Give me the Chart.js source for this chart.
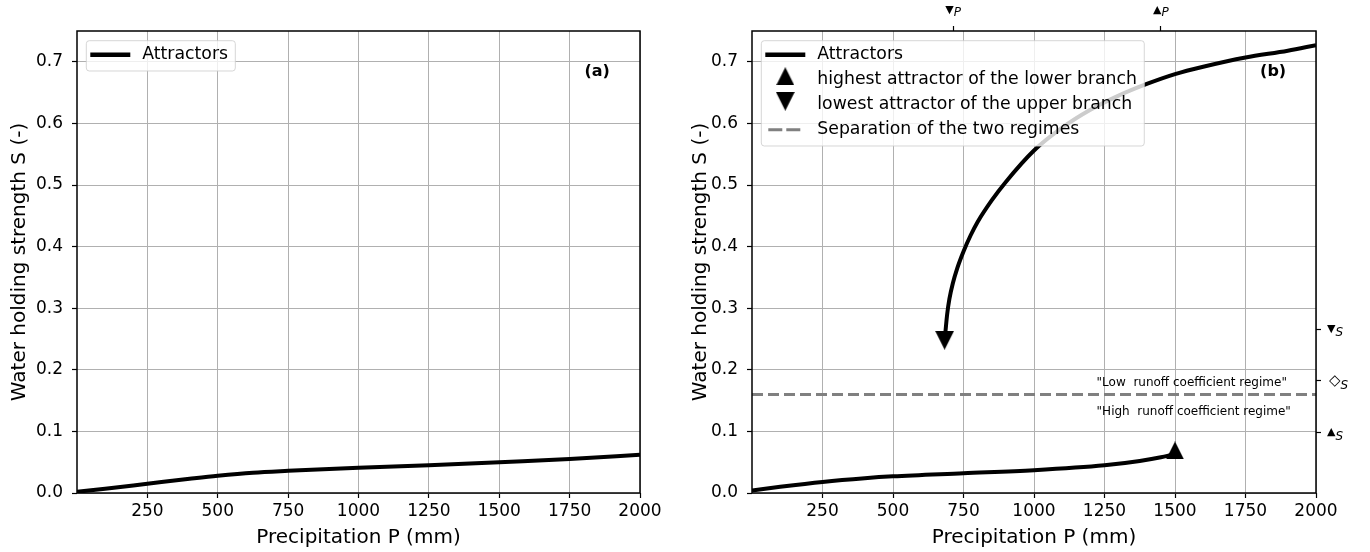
<!DOCTYPE html>
<html>
<head>
<meta charset="utf-8">
<script src="https://cdn.jsdelivr.net/npm/chart.js@4"></script>
<style>
body { margin: 0; background: #fff; }
#wrap { position: relative; width: 1370px; height: 552px; }
canvas { position: absolute; top: 0; }
</style>
</head>
<body>
<div id="wrap">
  <canvas id="chartA" width="685" height="552" style="left:0"></canvas>
  <canvas id="chartB" width="685" height="552" style="left:685px"></canvas>
</div>
<script>
// values
const precipTicks = [250, 500, 750, 1000, 1250, 1500, 1750, 2000];
const strengthTicks = [0, 0.1, 0.2, 0.3, 0.4, 0.5, 0.6, 0.7];

// panel (a): attractors
const precipA = [0, 100, 250, 400, 500, 625, 750, 1000, 1250, 1500, 1750, 2000];
const attractorA = [0.002, 0.007, 0.015, 0.023, 0.028, 0.033, 0.036, 0.041, 0.045, 0.050, 0.055, 0.062];

// panel (b): lower and upper branch
const precipLowB = [0, 100, 250, 400, 500, 750, 1000, 1250, 1375, 1450, 1490];
const attractorLowB = [0.004, 0.010, 0.018, 0.024, 0.027, 0.032, 0.037, 0.045, 0.052, 0.058, 0.062];
const precipUpB = [686, 692, 700, 712, 728, 750, 775, 800, 850, 900, 1000, 1100, 1200, 1300, 1400, 1500, 1600, 1750, 1900, 2000];
const attractorUpB = [0.262, 0.290, 0.315, 0.340, 0.365, 0.392, 0.418, 0.440, 0.475, 0.505, 0.556, 0.593, 0.622, 0.645, 0.664, 0.680, 0.692, 0.707, 0.718, 0.727];

const highestLow = { x: 1500, y: 0.069 };
const lowestUp = { x: 683, y: 0.248 };
const regimeSplit = 0.16;

// extra ticks on the top and right axes of panel (b)
const markerTicksP = [713, 1450];
const markerSymbolsP = ['▼', '▲'];
const markerTicksS = [0.266, 0.182, 0.098];
const markerSymbolsS = ['▼', '◇', '▲'];

const GRID = '#b0b0b0';
const FONT = '"DejaVu Sans", sans-serif';
Chart.defaults.font.family = FONT;
Chart.defaults.color = '#000';

const toPoints = (xs, ys) => xs.map((x, i) => ({ x: x, y: ys[i] }));

// matplotlib like triangle markers (as wide as tall)
function triangle(up, size) {
  const c = document.createElement('canvas');
  c.width = size; c.height = size;
  const g = c.getContext('2d');
  g.fillStyle = '#000';
  g.beginPath();
  if (up) { g.moveTo(size / 2, 0); g.lineTo(size, size); g.lineTo(0, size); }
  else { g.moveTo(0, 0); g.lineTo(size, 0); g.lineTo(size / 2, size); }
  g.closePath();
  g.fill();
  return c;
}
const triUp = triangle(true, 18);
const triDown = triangle(false, 19);

function gridOpts() {
  return { color: GRID, lineWidth: 1, tickColor: '#000', tickLength: 5, tickWidth: 1.2 };
}

function buildScales(isB) {
  const s = {
    x: {
      type: 'linear', position: 'bottom', min: 0, max: 2000,
      afterBuildTicks: sc => { sc.ticks = precipTicks.map(v => ({ value: v })); },
      afterFit: sc => { sc.height = 59; },
      grid: gridOpts(),
      border: { display: false },
      ticks: { font: { size: 17 }, color: '#000', padding: 3, maxRotation: 0, autoSkip: false, callback: v => String(v) },
      title: { display: true, text: 'Precipitation P (mm)', font: { size: 20 }, color: '#000', padding: { top: 0, bottom: 2 } }
    },
    y: {
      type: 'linear', position: 'left', min: 0, max: 0.75,
      afterBuildTicks: sc => { sc.ticks = strengthTicks.map(v => ({ value: v })); },
      afterFit: sc => { sc.width = isB ? 67 : 77; },
      grid: gridOpts(),
      border: { display: false },
      ticks: { font: { size: 17 }, color: '#000', padding: 9, autoSkip: false, callback: v => v.toFixed(1) },
      title: { display: true, text: 'Water holding strength S (-)', font: { size: 20 }, color: '#000', padding: { top: isB ? 4 : 8 } }
    }
  };
  if (isB) {
    s.x2 = {
      type: 'linear', position: 'top', min: 0, max: 2000,
      afterBuildTicks: sc => { sc.ticks = markerTicksP.map(v => ({ value: v })); },
      afterFit: sc => { sc.height = 31; },
      grid: Object.assign(gridOpts(), { drawOnChartArea: false }),
      border: { display: false },
      ticks: { display: false }
    };
    s.y2 = {
      type: 'linear', position: 'right', min: 0, max: 0.75,
      afterBuildTicks: sc => { sc.ticks = markerTicksS.map(v => ({ value: v })); },
      afterFit: sc => { sc.width = 54; },
      grid: Object.assign(gridOpts(), { drawOnChartArea: false }),
      border: { display: false },
      ticks: { display: false }
    };
  }
  return s;
}

function drawLegend(ctx, area, items) {
  ctx.font = '17.3px ' + FONT;
  const textW = Math.max(...items.map(it => ctx.measureText(it.label).width));
  const bx = area.left + 9.3, by = area.top + 9.7;
  const rowH = 25;
  const bw = 56 + textW + 7.3;
  const bh = 14 + (items.length - 1) * rowH + 16.3;
  ctx.beginPath();
  ctx.roundRect(bx, by, bw, bh, 3);
  ctx.fillStyle = 'rgba(255,255,255,0.8)';
  ctx.fill();
  ctx.strokeStyle = 'rgba(204,204,204,0.8)';
  ctx.lineWidth = 1;
  ctx.stroke();
  items.forEach((it, i) => {
    const y = by + 14 + i * rowH;
    const x0 = bx + 4;
    if (it.kind === 'line') {
      ctx.beginPath(); ctx.moveTo(x0, y); ctx.lineTo(x0 + 40, y);
      ctx.lineWidth = 4.5; ctx.strokeStyle = '#000'; ctx.setLineDash([]); ctx.stroke();
    } else if (it.kind === 'dash') {
      ctx.beginPath(); ctx.moveTo(x0 + 3, y); ctx.lineTo(x0 + 37, y);
      ctx.lineWidth = 3; ctx.strokeStyle = '#808080'; ctx.setLineDash([14, 4]); ctx.stroke();
      ctx.setLineDash([]);
    } else {
      const img = it.kind === 'up' ? triUp : triDown;
      ctx.drawImage(img, x0 + 20 - img.width / 2, y - 3.5 - img.height / 2);
    }
    ctx.fillStyle = '#000';
    ctx.textAlign = 'left';
    ctx.textBaseline = 'middle';
    ctx.font = '17.3px ' + FONT;
    ctx.fillText(it.label, bx + 56, y);
  });
}

function symLabel(ctx, x, y, sym, symFont, sub, dy, align) {
  const subFont = 'italic 12px ' + FONT;
  ctx.font = symFont; const w1 = ctx.measureText(sym).width;
  ctx.font = subFont; const w2 = ctx.measureText(sub).width;
  const sx = align === 'center' ? x - (w1 + w2) / 2 : x;
  ctx.textAlign = 'left';
  ctx.textBaseline = 'middle';
  ctx.fillStyle = '#000';
  ctx.font = symFont; ctx.fillText(sym, sx, y);
  ctx.font = subFont; ctx.fillText(sub, sx + w1, y + dy);
}

function decor(cfg) {
  return {
    id: 'decor',
    afterDatasetsDraw(chart) {
      const ctx = chart.ctx, xs = chart.scales.x, ys = chart.scales.y;
      ctx.save();
      ctx.fillStyle = '#000';
      ctx.font = 'bold 16px ' + FONT;
      ctx.textAlign = 'center';
      ctx.textBaseline = 'middle';
      ctx.fillText(cfg.panel, xs.getPixelForValue(1848), ys.getPixelForValue(0.683));
      (cfg.notes || []).forEach(n => {
        ctx.font = '12px ' + FONT;
        ctx.textAlign = 'left';
        ctx.fillText(n.text, xs.getPixelForValue(n.x), ys.getPixelForValue(n.y));
      });
      drawLegend(ctx, chart.chartArea, cfg.legend);
      ctx.restore();
    },
    afterDraw(chart) {
      const ctx = chart.ctx, a = chart.chartArea;
      ctx.save();
      ctx.strokeStyle = '#000';
      ctx.lineWidth = 1.5;
      ctx.strokeRect(a.left, a.top, a.right - a.left, a.bottom - a.top);
      if (chart.scales.x2) {
        const x2 = chart.scales.x2, y2 = chart.scales.y2;
        markerTicksP.forEach((v, i) => {
          symLabel(ctx, x2.getPixelForValue(v), 10.5, markerSymbolsP[i], '11px ' + FONT, 'P', 2, 'center');
        });
        markerTicksS.forEach((v, i) => {
          const sym = markerSymbolsS[i];
          const diamond = sym === '◇';
          symLabel(ctx, a.right + (diamond ? 13 : 11), y2.getPixelForValue(v), sym,
            (diamond ? '15px ' : '11px ') + FONT, 'S', diamond ? 5 : 4, 'left');
        });
      }
      ctx.restore();
    }
  };
}

function lineSet(points, extra) {
  return Object.assign({
    data: points, borderColor: '#000', borderWidth: 4, pointRadius: 0,
    cubicInterpolationMode: 'monotone', fill: false, clip: 0
  }, extra || {});
}

const common = {
  responsive: false,
  devicePixelRatio: 1,
  animation: false,
  events: [],
  plugins: { legend: { display: false }, tooltip: { enabled: false } }
};

new Chart(document.getElementById('chartA'), {
  type: 'line',
  data: { datasets: [lineSet(toPoints(precipA, attractorA))] },
  options: Object.assign({}, common, {
    layout: { padding: { top: 31, right: 45, left: 0, bottom: 0 } },
    scales: buildScales(false)
  }),
  plugins: [decor({
    panel: '(a)',
    legend: [{ label: 'Attractors', kind: 'line' }]
  })]
});

new Chart(document.getElementById('chartB'), {
  type: 'line',
  data: {
    datasets: [
      { data: [highestLow], showLine: false, pointStyle: triUp, pointRadius: 9, clip: false },
      { data: [lowestUp], showLine: false, pointStyle: triDown, pointRadius: 9, clip: false },
      lineSet(toPoints(precipUpB, attractorUpB)),
      lineSet(toPoints(precipLowB, attractorLowB)),
      lineSet([{ x: 0, y: regimeSplit }, { x: 2000, y: regimeSplit }],
        { borderColor: '#808080', borderWidth: 3, borderDash: [11, 5], cubicInterpolationMode: 'default', tension: 0 })
    ]
  },
  options: Object.assign({}, common, {
    layout: { padding: 0 },
    scales: buildScales(true)
  }),
  plugins: [decor({
    panel: '(b)',
    notes: [
      { text: '"Low  runoff coefficient regime"', x: 1222, y: 0.178 },
      { text: '"High  runoff coefficient regime"', x: 1222, y: 0.131 }
    ],
    legend: [
      { label: 'Attractors', kind: 'line' },
      { label: 'highest attractor of the lower branch', kind: 'up' },
      { label: 'lowest attractor of the upper branch', kind: 'down' },
      { label: 'Separation of the two regimes', kind: 'dash' }
    ]
  })]
});
</script>
</body>
</html>
